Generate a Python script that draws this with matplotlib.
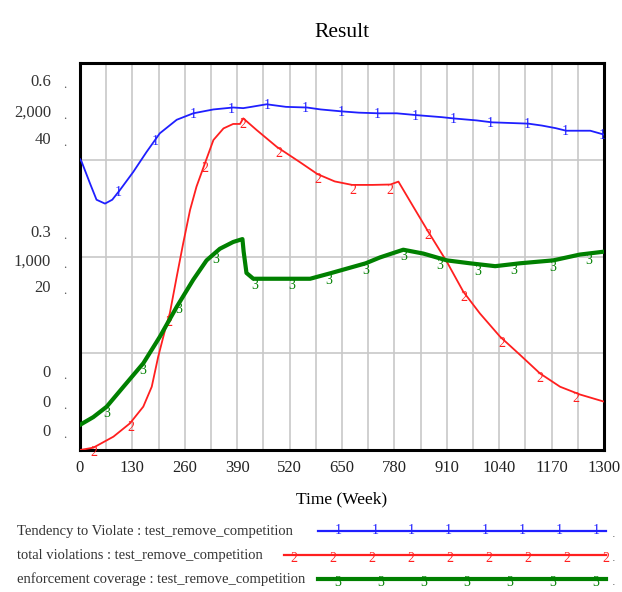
import numpy as np
import matplotlib
matplotlib.use("Agg")
import matplotlib.pyplot as plt
from matplotlib.lines import Line2D

# ---------------- data ----------------
title = "Result"
x_label = "Time (Week)"
x_ticks = [0, 130, 260, 390, 520, 650, 780, 910, 1040, 1170, 1300]

series_names = [
    "Tendency to Violate : test_remove_competition",
    "total violations : test_remove_competition",
    "enforcement coverage : test_remove_competition",
]

tendency_t = [0, 4, 25, 41, 62, 80, 99, 132, 165, 198, 240, 281, 331, 380, 405, 425, 463, 511,
              563, 597, 649, 692, 741, 786, 838, 898, 928, 984, 1022, 1112, 1146, 1180, 1206,
              1266, 1300]
tendency_v = [0.451, 0.447, 0.413, 0.388, 0.382, 0.388, 0.403, 0.431, 0.462, 0.491, 0.512, 0.522,
              0.528, 0.531, 0.530, 0.532, 0.536, 0.532, 0.531, 0.528, 0.525, 0.523, 0.522, 0.522,
              0.519, 0.516, 0.514, 0.511, 0.508, 0.506, 0.503, 0.499, 0.495, 0.495, 0.489]

violations_t = [0, 33, 83, 124, 157, 178, 194, 211, 223, 240, 256, 273, 289, 310, 331, 356, 380,
                397, 405, 438, 488, 546, 589, 632, 675, 726, 770, 790, 827, 864, 910, 951, 992,
                1042, 1092, 1141, 1191, 1240, 1300]
violations_v = [0, 12, 69, 138, 224, 327, 482, 620, 708, 896, 1068, 1240, 1361, 1482, 1602, 1662,
                1685, 1685, 1714, 1654, 1567, 1487, 1426, 1388, 1370, 1370, 1372, 1387, 1257, 1128,
                973, 818, 706, 586, 491, 396, 327, 287, 250]

coverage_t = [0, 33, 66, 107, 157, 198, 240, 281, 314, 347, 380, 403, 406, 413, 430, 496, 571,
              624, 709, 744, 802, 852, 910, 967, 1030, 1092, 1174, 1240, 1300]
coverage_v = [2.6, 3.4, 4.47, 6.5, 8.96, 11.7, 14.8, 17.6, 19.6, 20.8, 21.5, 21.8, 20.5, 18.3,
              17.7, 17.7, 17.7, 18.3, 19.3, 19.9, 20.7, 20.3, 19.6, 19.3, 19.0, 19.3, 19.6, 20.2,
              20.5]

tendency_ticks = ["0", "0.3", "0.6"]
violations_ticks = ["0", "1,000", "2,000"]
coverage_ticks = ["0", "20", "40"]
y_max = [0.6, 2000, 40]

# marker positions (weeks) for the numbered series markers
tendency_marks = [96, 186, 280, 375, 464, 558, 649, 738, 832, 926, 1017, 1110, 1204, 1296]
violations_marks = [35, 126, 220, 310, 404, 494, 589, 678, 768, 862, 952, 1046, 1140, 1230]
coverage_marks = [66, 156, 246, 336, 434, 524, 618, 708, 803, 893, 987, 1077, 1172, 1262]

colors = ["#1f1fff", "#ff1f1f", "#008000"]
serif = ["Liberation Serif", "DejaVu Serif"]

W, H = 622, 592
fig = plt.figure(figsize=(W / 100, H / 100), dpi=100)

L, R, T, B = 80, 604, 63, 450
ax = fig.add_axes([L / W, 1 - B / H, (R - L) / W, (B - T) / H])
ax2 = ax.twinx()
ax3 = ax.twinx()

ax.set_xlim(0, 1300)
ax.set_ylim(0, y_max[0])
ax2.set_ylim(0, y_max[1])
ax3.set_ylim(0, y_max[2])

# grid
for xv in np.arange(0, 1301, 65):
    ax.axvline(xv, color="#c8c8c8", lw=1.2, zorder=0)
for f in [0.25, 0.5, 0.75]:
    ax.axhline(f * y_max[0], color="#c8c8c8", lw=1.2, zorder=0)

for a in (ax2, ax3):
    a.set_yticks([])
    for s in a.spines.values():
        s.set_visible(False)
ax.set_yticks([])
for s in ax.spines.values():
    s.set_linewidth(2.2)
    s.set_color("black")

ax.set_xticks(x_ticks)
ax.set_xticklabels([str(v) for v in x_ticks], fontfamily=serif, fontsize=12, color="#222222")
ax.tick_params(axis="x", length=0, pad=7)

ax.plot(tendency_t, tendency_v, color=colors[0], lw=1.3, zorder=3)
ax2.plot(violations_t, violations_v, color=colors[1], lw=1.3, zorder=3)
ax3.plot(coverage_t, coverage_v, color=colors[2], lw=3.0, zorder=3)

for a, marks, tt, vv, lab, c, dy in [
    (ax, tendency_marks, tendency_t, tendency_v, "1", colors[0], -1),
    (ax2, violations_marks, violations_t, violations_v, "2", colors[1], -4),
    (ax3, coverage_marks, coverage_t, coverage_v, "3", colors[2], -5),
]:
    for m in marks:
        a.annotate(lab, (m, np.interp(m, tt, vv)), xytext=(0, dy), textcoords="offset points",
                   color=c, fontsize=10, fontfamily=serif, ha="center", va="center", zorder=4)

ax.set_title(title, fontfamily=serif, fontsize=15.5, pad=19)
ax.set_xlabel(x_label, fontfamily=serif, fontsize=12.5, labelpad=11)

# stacked y labels (pixel rows from top for each group)
rows = [[373, 403, 432], [233, 262, 288], [82, 113, 140]]
for gi in range(3):
    labs = [tendency_ticks[gi], violations_ticks[gi], coverage_ticks[gi]]
    for lab, yp in zip(labs, rows[gi]):
        fig.text(51 / W, 1 - yp / H, lab, ha="right", va="center", fontfamily=serif,
                 fontsize=12, color="#333333")
        fig.text(65 / W, 1 - (yp + 3) / H, ".", ha="center", va="center", fontfamily=serif,
                 fontsize=9, color="#555555")

# legend
leg_rows = [531, 555, 579]
leg_start = [318, 284, 318]
leg_marks = [8, 9, 7]
leg_lw = [1.6, 1.6, 3.0]
for i in range(3):
    yf = 1 - leg_rows[i] / H
    fig.text(17 / W, yf, series_names[i], ha="left", va="center", fontfamily=serif,
             fontsize=10.5, color="#333333")
    fig.add_artist(Line2D([leg_start[i] / W, 606 / W], [yf, yf], color=colors[i],
                          lw=leg_lw[i], transform=fig.transFigure))
    if i == 1:
        xs = np.linspace(leg_start[i] + 10, 606, leg_marks[i])
    else:
        xs = np.linspace(leg_start[i] + 20, 596, leg_marks[i])
    for xp in xs:
        fig.text(xp / W, yf - (0 if i == 0 else 4) / H, str(i + 1), ha="center", va="center",
                 fontfamily=serif, fontsize=10, color=colors[i])
    fig.text(614 / W, yf - 3 / H, ".", ha="center", va="center", fontsize=8, color="#555555")

fig.savefig("out.png", dpi=100)
